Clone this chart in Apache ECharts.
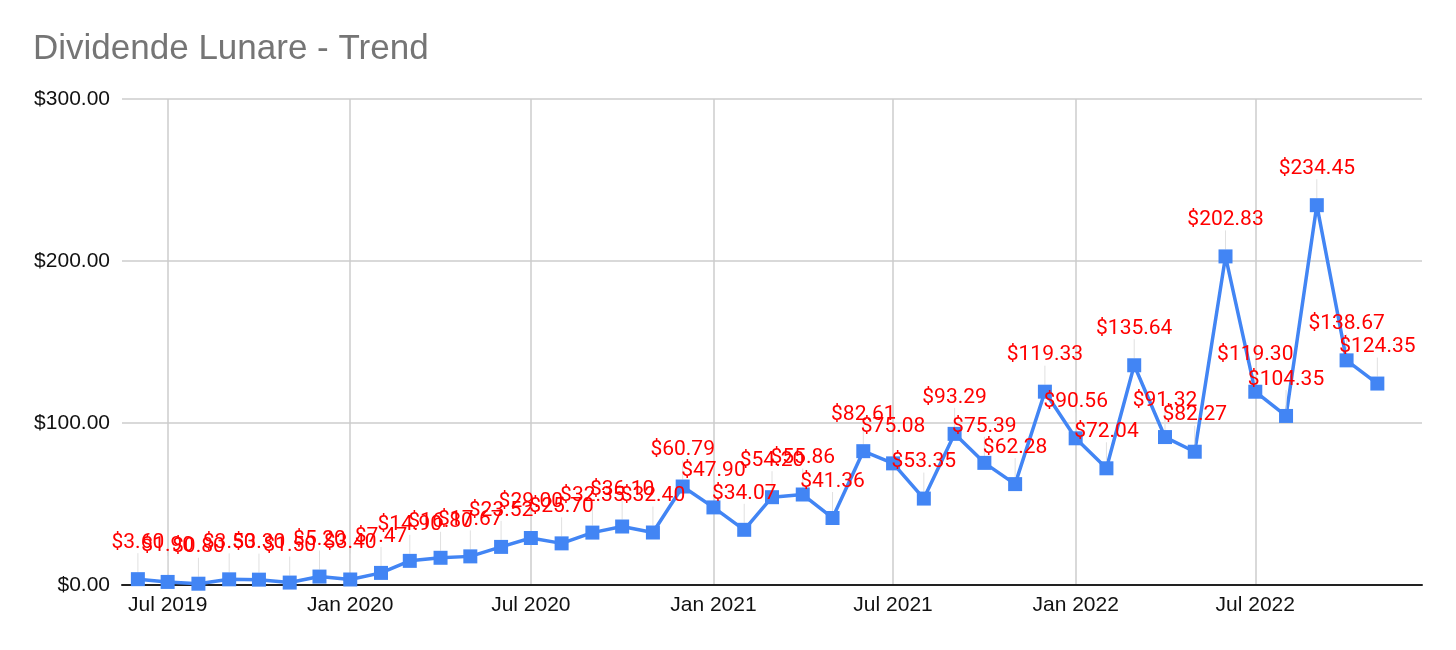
<!DOCTYPE html>
<html>
<head>
<meta charset="utf-8">
<script src="https://cdn.jsdelivr.net/npm/echarts@6/dist/echarts.min.js"></script>
<style>
  html, body { margin: 0; padding: 0; background: #fff; }
  #chart { width: 1456px; height: 650px; }
</style>
</head>
<body>
<div id="chart"></div>
<script>
// mesi (primo del mese)
const months = [
  "2019-06-01", "2019-07-01", "2019-08-01", "2019-09-01", "2019-10-01", "2019-11-01", "2019-12-01",
  "2020-01-01", "2020-02-01", "2020-03-01", "2020-04-01", "2020-05-01", "2020-06-01", "2020-07-01",
  "2020-08-01", "2020-09-01", "2020-10-01", "2020-11-01", "2020-12-01",
  "2021-01-01", "2021-02-01", "2021-03-01", "2021-04-01", "2021-05-01", "2021-06-01", "2021-07-01",
  "2021-08-01", "2021-09-01", "2021-10-01", "2021-11-01", "2021-12-01",
  "2022-01-01", "2022-02-01", "2022-03-01", "2022-04-01", "2022-05-01", "2022-06-01", "2022-07-01",
  "2022-08-01", "2022-09-01", "2022-10-01", "2022-11-01"
];
// dividendi mensili ($)
const dividends = [
  3.6, 1.9, 0.8, 3.5, 3.3, 1.5, 5.2,
  3.4, 7.47, 14.9, 16.8, 17.67, 23.52, 29.0,
  25.70, 32.35, 36.1, 32.40, 60.79,
  47.90, 34.07, 54.2, 55.86, 41.36, 82.61, 75.08,
  53.35, 93.29, 75.39, 62.28, 119.33,
  90.56, 72.04, 135.64, 91.32, 82.27, 202.83, 119.30,
  104.35, 234.45, 138.67, 124.35
];
const xTicks = ["2019-07-01", "2020-01-01", "2020-07-01", "2021-01-01", "2021-07-01", "2022-01-01", "2022-07-01"];
const xMin = "2019-05-16";
const xMax = "2022-12-16";
const yTicks = [0, 100, 200, 300];

const chart = echarts.init(document.getElementById("chart"));
const toTime = s => +echarts.time.parse(s);
const money = v => "$" + v.toFixed(2);

chart.setOption({
  animation: false,
  title: {
    text: "Dividende Lunare - Trend",
    left: 28,
    top: 27,
    textStyle: { fontFamily: "Liberation Sans", fontSize: 35, fontWeight: "normal", color: "#757575" }
  },
  grid: { left: 122, right: 34, top: 99, bottom: 65 },
  xAxis: {
    type: "value",
    min: toTime(xMin),
    max: toTime(xMax),
    axisLine: { lineStyle: { color: "#222", width: 2 } },
    axisTick: { show: false, customValues: xTicks.map(toTime) },
    splitLine: { show: true, lineStyle: { color: "#ccc", width: 1.5 } },
    axisLabel: {
      customValues: xTicks.map(toTime),
      formatter: v => echarts.time.format(v, "{MMM} {yyyy}", false),
      fontFamily: "Liberation Sans",
      fontSize: 21,
      color: "#111",
      margin: 10
    }
  },
  yAxis: {
    type: "value",
    min: yTicks[0],
    max: yTicks[yTicks.length - 1],
    interval: 100,
    axisLine: { show: false },
    axisTick: { show: false },
    splitLine: { lineStyle: { color: "#ccc", width: 1.5 } },
    axisLabel: {
      formatter: v => money(v),
      fontFamily: "Liberation Sans",
      fontSize: 21,
      color: "#111",
      margin: 12
    }
  },
  series: [{
    type: "line",
    data: months.map((m, i) => [toTime(m), dividends[i]]),
    symbol: "rect",
    symbolSize: 14,
    lineStyle: { color: "#4285f4", width: 3.5 },
    itemStyle: { color: "#4285f4" },
    label: {
      show: true,
      position: "top",
      distance: 5,
      formatter: p => money(p.value[1]),
      fontFamily: "Roboto",
      fontSize: 21,
      color: "#ff0000"
    },
    labelLayout: { dy: -14 },
    labelLine: { show: true, lineStyle: { color: "#e0e0e0", width: 1 } }
  }]
});
</script>
</body>
</html>
